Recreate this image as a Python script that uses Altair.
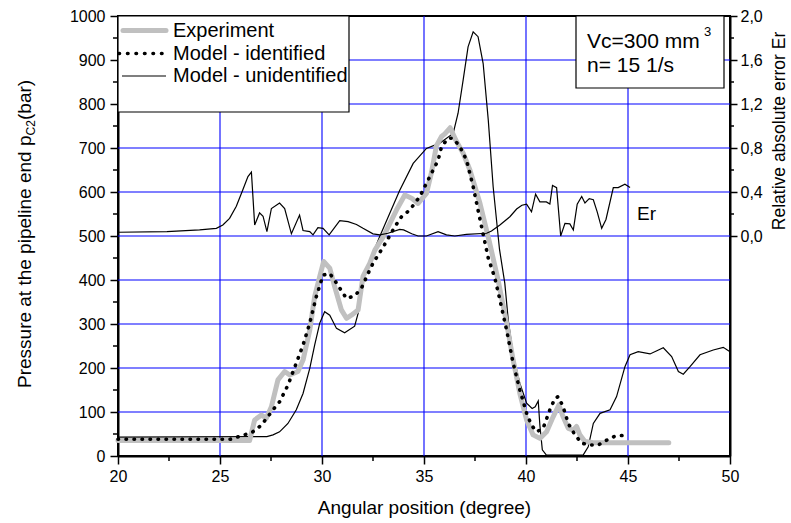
import altair as alt
import pandas as pd

FONT = "Liberation Sans"

# ---------------- data ----------------
exp_x = [20.0, 26.45, 26.7, 27.03, 27.27, 27.52, 27.84, 28.17, 28.42, 28.82, 29.07, 29.4,
         29.64, 29.89, 30.08, 30.38, 30.62, 30.95, 31.2, 31.44, 31.77, 32.01, 32.34, 32.59,
         33.0, 33.65, 34.06, 34.39, 34.71, 35.12, 35.37, 35.61, 35.86, 36.02, 36.28, 36.6,
         36.92, 37.25, 37.74, 38.2, 38.64, 39.05, 39.37, 39.7, 40.03, 40.35, 40.68, 41.01,
         41.33, 41.61, 41.82, 42.07, 42.32, 42.48, 42.64, 42.89, 43.3, 47.0]
exp_y = [35, 35, 82, 93, 86, 112, 173, 192, 184, 192, 218, 286,
         362, 408, 442, 427, 385, 332, 313, 320, 332, 408, 438, 468,
         498, 559, 593, 586, 574, 597, 645, 705, 726, 732, 746, 714,
         688, 650, 575, 488, 398, 302, 218, 142, 82, 48, 40, 55,
         89, 116, 89, 63, 59, 67, 48, 33, 30, 30]

idf_x = [20.0, 25.5, 26.2, 26.61, 27.03, 27.6, 27.92, 28.33, 28.74, 29.07, 29.4, 29.72,
         30.05, 30.38, 30.71, 31.2, 31.6, 31.93, 32.26, 32.5, 33.0, 33.57, 33.9, 34.3,
         34.8, 35.12, 35.45, 35.69, 35.86, 36.18, 36.43, 36.76, 37.08, 37.41, 37.82, 38.15,
         38.47, 38.72, 39.05, 39.37, 39.7, 40.03, 40.27, 40.52, 40.84, 41.17, 41.42, 41.58,
         41.82, 42.07, 42.4, 42.73, 43.14, 43.54, 43.95, 44.36, 45.0]
idf_y = [38, 38, 48, 55, 70, 105, 123, 161, 211, 252, 302, 362,
         411, 415, 393, 358, 364, 381, 415, 438, 475, 521, 544, 559,
         590, 620, 650, 672, 703, 722, 722, 703, 673, 612, 521, 450,
         405, 355, 286, 211, 150, 97, 70, 55, 63, 105, 131, 135,
         112, 74, 48, 29, 25, 25, 36, 45, 48]

unid_x = [20.0, 27.3, 27.6, 27.92, 28.33, 28.74, 29.07, 29.4, 29.64, 29.89, 30.13, 30.38,
          30.71, 31.11, 31.6, 31.77, 32.0, 32.4, 32.83, 33.8, 34.47, 35.12, 35.77, 36.43,
          36.67, 36.92, 37.16, 37.41, 37.65, 37.9, 38.15, 38.39, 38.7, 38.96, 39.13, 39.37,
          39.7, 40.03, 40.3, 40.45, 40.6, 40.68, 40.8, 41.0, 42.8, 43.05, 43.3, 43.63,
          44.12, 44.44, 44.85, 45.1, 45.5, 46.08, 46.73, 47.14, 47.47, 47.71, 48.04, 48.53,
          49.18, 49.67, 50.0]
unid_y = [43, 44, 48, 55, 74, 105, 142, 199, 252, 302, 328, 320,
          290, 280, 295, 324, 400, 450, 499, 603, 665, 699, 711, 733,
          779, 855, 930, 964, 953, 892, 764, 612, 470, 393, 309, 230,
          165, 120, 108, 112, 125, 70, 14, 2, 2, 21, 74, 97,
          105, 135, 203, 230, 237, 232, 246, 226, 192, 186, 203, 230,
          241, 247, 237]

er_x = [20.0, 22.4, 24.0, 24.82, 25.14, 25.47, 25.8, 26.12, 26.37, 26.54, 26.7, 26.94,
        27.11, 27.3, 27.52, 27.92, 28.17, 28.5, 28.9, 29.07, 29.4, 29.56, 29.8, 30.05,
        30.35, 30.87, 31.28, 31.69, 32.01, 32.5, 32.83, 33.24, 33.81, 34.0, 34.4, 34.71,
        35.12, 35.69, 36.1, 36.51, 37.08, 38.07, 38.31, 38.72, 39.21, 39.54, 39.8, 40.03,
        40.27, 40.47, 40.68, 41.0, 41.17, 41.3, 41.5, 41.7, 41.91, 42.15, 42.32, 42.51,
        42.73, 42.89, 43.1, 43.3, 43.49, 43.71, 43.92, 44.28, 44.52, 44.85, 45.1]
er_y = [0.034, 0.039, 0.055, 0.07, 0.1, 0.16, 0.27, 0.42, 0.54, 0.58, 0.1, 0.21,
        0.18, 0.04, 0.25, 0.3, 0.25, 0.02, 0.19, 0.05, 0.04, 0.01, 0.075, 0.07,
        0.01, 0.14, 0.13, 0.105, 0.07, 0.02, 0.01, 0.025, 0.06, 0.055, 0.02, 0.0,
        0.0, 0.04, 0.01, 0.0, 0.015, 0.025, 0.045, 0.1, 0.175, 0.245, 0.28, 0.29,
        0.22, 0.38, 0.31, 0.31, 0.29, 0.46, 0.44, 0.0, 0.115, 0.11, 0.055, 0.29,
        0.36, 0.3, 0.34, 0.33, 0.22, 0.07, 0.15, 0.44, 0.44, 0.47, 0.44]

x_ticks = [20, 25, 30, 35, 40, 45, 50]
x_minor = [22.5, 27.5, 32.5, 37.5, 42.5, 47.5]
x_grid = [25, 30, 35, 40, 45]
y_ticks = [0, 100, 200, 300, 400, 500, 600, 700, 800, 900, 1000]
y_minor = [50, 150, 250, 350, 450, 550, 650, 750, 850, 950]
y_grid = [100, 200, 300, 400, 500, 600, 700, 800, 900]
er_ticks = [0.0, 0.4, 0.8, 1.2, 1.6, 2.0]
er_minor = [0.2, 0.6, 1.0, 1.4, 1.8]

legend_labels = ["Experiment", "Model - identified", "Model - unidentified"]

W, H = 612, 440

# ---------------- scales / axes ----------------
xscale = alt.Scale(domain=[20, 50], nice=False, zero=False)
pscale = alt.Scale(domain=[0, 1000], nice=False)
escale = alt.Scale(domain=[-2, 2], nice=False)

x_axis = alt.Axis(values=x_ticks, format="d", tickSize=8, tickWidth=1.5, tickColor="black",
                  labelFontSize=16, labelFont=FONT, labelColor="black", labelPadding=4,
                  labelFlush=False, labelOverlap=False,
                  domainColor="black", domainWidth=2, grid=False,
                  title="Angular position (degree)", titleFont=FONT, titleFontSize=19,
                  titleFontWeight="normal", titleColor="black", titlePadding=14)
y_axis = alt.Axis(values=y_ticks, format="d", tickSize=8, tickWidth=1.5, tickColor="black",
                  labelFontSize=16, labelFont=FONT, labelColor="black", labelPadding=5,
                  labelFlush=False, labelOverlap=False,
                  domainColor="black", domainWidth=2, grid=False, title=None)
er_axis = alt.Axis(orient="right", values=er_ticks,
                   labelExpr="replace(format(datum.value, '.1f'), '.', ',')",
                   tickSize=7, tickWidth=1.5, tickColor="black",
                   labelFontSize=16, labelFont=FONT, labelColor="black", labelPadding=3,
                   labelFlush=False, labelOverlap=False,
                   domainColor="black", domainWidth=2, grid=False, title=None)

X = alt.X("x:Q", scale=xscale, axis=x_axis)
Y = alt.Y("y:Q", scale=pscale, axis=y_axis)
YE = alt.Y("y:Q", scale=escale, axis=er_axis)

one = pd.DataFrame({"d": [0]})

def df(xs, ys):
    return pd.DataFrame({"x": xs, "y": ys})

# ---------------- grid ----------------
vgrid = alt.Chart(pd.DataFrame({"x": x_grid})).mark_rule(color="#0000ff", strokeWidth=1.1).encode(x=X)
hgrid = alt.Chart(pd.DataFrame({"y": y_grid})).mark_rule(color="#0000ff", strokeWidth=1.1).encode(y=Y)

xmin = alt.Chart(pd.DataFrame({"x": x_minor})).mark_rule(color="black", strokeWidth=1.5).encode(
    x=X, y=alt.value(H), y2=alt.value(H + 5))
ymin = alt.Chart(pd.DataFrame({"y": y_minor})).mark_rule(color="black", strokeWidth=1.5).encode(
    y=Y, x=alt.value(-5), x2=alt.value(0))

# ---------------- series ----------------
unid = alt.Chart(df(unid_x, unid_y)).mark_line(color="black", strokeWidth=1.2).encode(x=X, y=Y)
expl = alt.Chart(df(exp_x, exp_y)).mark_line(color="#c0c0c0", strokeWidth=5, strokeJoin="round",
                                              strokeCap="round").encode(x=X, y=Y)
idf = alt.Chart(df(idf_x, idf_y)).mark_line(color="black", strokeWidth=3.6, strokeDash=[0.5, 7.5],
                                            strokeCap="round").encode(x=X, y=Y)

# ---------------- legend (drawn) ----------------
leg_box = alt.Chart(one).mark_rect(fill="white", stroke="black", strokeWidth=1.2).encode(
    x=alt.value(0), x2=alt.value(231), y=alt.value(0), y2=alt.value(96))
leg_exp = alt.Chart(one).mark_rule(color="#c0c0c0", strokeWidth=5, strokeCap="round").encode(
    x=alt.value(5), x2=alt.value(48), y=alt.value(14.5))
leg_idf = alt.Chart(one).mark_rule(color="black", strokeWidth=3.6, strokeDash=[0.5, 8],
                                   strokeCap="round").encode(
    x=alt.value(1), x2=alt.value(49), y=alt.value(37.5))
leg_unid = alt.Chart(one).mark_rule(color="black", strokeWidth=1.2).encode(
    x=alt.value(4), x2=alt.value(48), y=alt.value(60))
leg_txt = [
    alt.Chart(one).mark_text(align="left", baseline="middle", fontSize=20, font=FONT,
                             color="black", text=t).encode(x=alt.value(55), y=alt.value(yy))
    for t, yy in zip(legend_labels, [14.5, 37.5, 60])
]

# ---------------- info box ----------------
info_box = alt.Chart(one).mark_rect(fill="white", stroke="black", strokeWidth=1.2).encode(
    x=alt.value(458), x2=alt.value(606), y=alt.value(0), y2=alt.value(72))
info1 = alt.Chart(one).mark_text(align="left", baseline="middle", fontSize=21, font=FONT,
                                 color="black", text="Vc=300 mm").encode(x=alt.value(469), y=alt.value(25.5))
info_sup = alt.Chart(one).mark_text(align="left", baseline="middle", fontSize=13, font=FONT,
                                    color="black", text="3").encode(x=alt.value(586), y=alt.value(16))
info2 = alt.Chart(one).mark_text(align="left", baseline="middle", fontSize=21, font=FONT,
                                 color="black", text="n= 15 1/s").encode(x=alt.value(469), y=alt.value(49.5))

er_lab = alt.Chart(one).mark_text(align="left", baseline="middle", fontSize=19, font=FONT,
                                  color="black", text="Er").encode(x=alt.value(519), y=alt.value(198))

# ---------------- axis titles (drawn for subscript) ----------------
t1 = alt.Chart(one).mark_text(align="left", baseline="alphabetic", angle=270, fontSize=19, font=FONT,
                              color="black", text="Pressure at the pipeline end p").encode(
    x=alt.value(-87), y=alt.value(372))
t2 = alt.Chart(one).mark_text(align="left", baseline="alphabetic", angle=270, fontSize=12, font=FONT,
                              color="black", text="C2").encode(
    x=alt.value(-83), y=alt.value(119.5))
t3 = alt.Chart(one).mark_text(align="left", baseline="alphabetic", angle=270, fontSize=19, font=FONT,
                              color="black", text="(bar)").encode(
    x=alt.value(-87), y=alt.value(104))
rt = alt.Chart(one).mark_text(align="center", baseline="middle", angle=270, fontSize=17.5, font=FONT,
                              color="black", text="Relative absolute error Er").encode(
    x=alt.value(662), y=alt.value(115))

pressure = alt.layer(vgrid, hgrid, xmin, ymin, unid, expl, idf,
                     leg_box, leg_exp, leg_idf, leg_unid, *leg_txt,
                     info_box, info1, info_sup, info2, er_lab, t1, t2, t3, rt)

er_line = alt.Chart(df(er_x, er_y)).mark_line(color="black", strokeWidth=1.2).encode(x=X, y=YE)
er_min = alt.Chart(pd.DataFrame({"y": er_minor})).mark_rule(color="black", strokeWidth=1.5).encode(
    y=YE, x=alt.value(W), x2=alt.value(W + 4))
er_layer = alt.layer(er_line, er_min)

chart = alt.layer(pressure, er_layer).resolve_scale(y="independent").properties(
    width=W, height=H,
    autosize=alt.AutoSizeParams(type="none"),
    padding={"left": 118, "top": 16, "right": 61, "bottom": 67},
).configure_view(stroke="black", strokeWidth=2)

chart.save("out.html", embed_options={"renderer": "svg", "actions": False})
